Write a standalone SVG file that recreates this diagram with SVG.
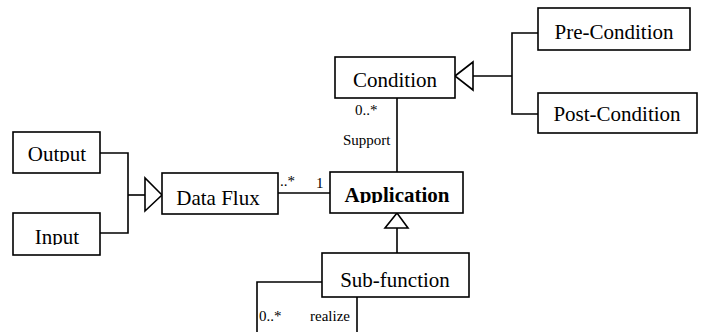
<svg xmlns="http://www.w3.org/2000/svg" width="702" height="332" viewBox="0 0 702 332">
<style>
.box{fill:#fff;stroke:#000;stroke-width:1.6}
.ln{fill:none;stroke:#000;stroke-width:1.6}
.tri{fill:#fff;stroke:#000;stroke-width:1.6}
text{font-family:'Liberation Serif','Times New Roman','DejaVu Serif',serif;fill:#000}
.t{font-size:21px;text-anchor:middle}
.b{font-weight:bold}
.s{font-size:15px}
</style>
<defs>
<clipPath id="cApp"><rect x="330" y="172" width="133" height="31"/></clipPath>
<clipPath id="cOut"><rect x="13" y="132" width="87" height="30"/></clipPath>
<clipPath id="cIn"><rect x="13" y="213" width="87" height="32"/></clipPath>
</defs>
<rect width="702" height="332" fill="#fff"/>
<g id="connectors">
<polyline class="ln" points="473,76 512,76"/>
<polyline class="ln" points="538,33 512,33 512,114 538,114"/>
<polygon class="tri" points="455,76 473,62 473,90"/>
<line class="ln" x1="397" y1="98" x2="397" y2="172"/>
<polyline class="ln" points="100,153 128,153 128,233 100,233"/>
<line class="ln" x1="128" y1="195" x2="145" y2="195"/>
<polygon class="tri" points="162,195 145,178 145,211"/>
<line class="ln" x1="278" y1="193" x2="330" y2="193"/>
<line class="ln" x1="397" y1="228" x2="397" y2="253"/>
<polygon class="tri" points="397,213 385,228 408,228"/>
<polyline class="ln" points="322,282 257,282 257,332"/>
<line class="ln" x1="357" y1="297" x2="357" y2="332"/>
<text class="s" x="355" y="115">0..*</text>
<text class="s" x="343" y="145">Support</text>
<text class="s" x="280" y="186">..*</text>
<text class="s" x="316" y="188">1</text>
<text class="s" x="259" y="321">0..*</text>
<text class="s" x="310" y="321">realize</text>
</g>
<g id="pre-condition"><rect class="box" x="538" y="8" width="152" height="42"/><text class="t" x="614" y="39">Pre-Condition</text></g>
<g id="post-condition"><rect class="box" x="538" y="93" width="159" height="40"/><text class="t" x="617" y="121">Post-Condition</text></g>
<g id="condition"><rect class="box" x="335" y="57" width="120" height="41"/><text class="t" x="395" y="87">Condition</text></g>
<g id="output"><rect class="box" x="13" y="132" width="87" height="41"/><text class="t" x="57" y="161" clip-path="url(#cOut)">Output</text></g>
<g id="input"><rect class="box" x="13" y="213" width="87" height="42"/><text class="t" x="57" y="244" clip-path="url(#cIn)">Input</text></g>
<g id="data-flux"><rect class="box" x="162" y="173" width="116" height="41"/><text class="t" x="218" y="205">Data Flux</text></g>
<g id="application"><rect class="box" x="330" y="172" width="133" height="41"/><text class="t b" x="397" y="202" clip-path="url(#cApp)">Application</text></g>
<g id="sub-function"><rect class="box" x="322" y="253" width="147" height="44"/><text class="t" x="395" y="287">Sub-function</text></g>
</svg>
